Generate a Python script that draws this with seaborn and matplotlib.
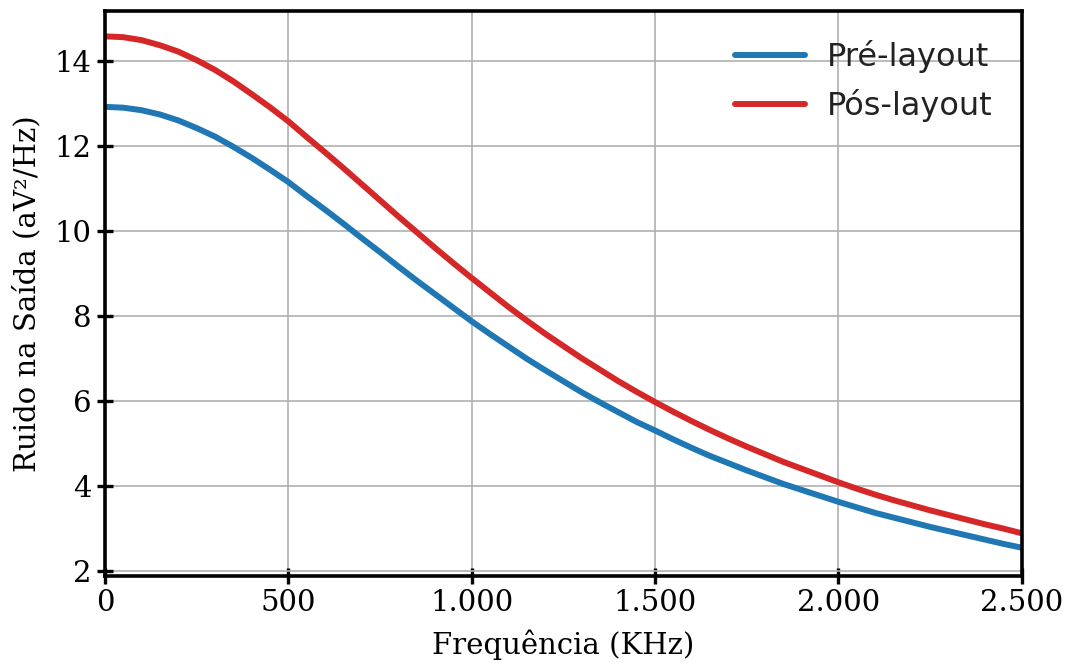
import matplotlib
matplotlib.use("Agg")
import matplotlib.pyplot as plt
from matplotlib.ticker import FuncFormatter
import pandas as pd
import seaborn as sns

# Output noise spectral density, pre- and post-layout simulations (every 50 KHz)
freq_khz = [0, 50, 100, 150, 200, 250, 300, 350, 400, 450, 500,
            550, 600, 650, 700, 750, 800, 850, 900, 950, 1000,
            1050, 1100, 1150, 1200, 1250, 1300, 1350, 1400, 1450, 1500,
            1550, 1600, 1650, 1700, 1750, 1800, 1850, 1900, 1950, 2000,
            2050, 2100, 2150, 2200, 2250, 2300, 2350, 2400, 2450, 2500]
pre_layout = [12.93, 12.91, 12.85, 12.75, 12.61, 12.43, 12.23, 11.99, 11.73,
              11.45, 11.16, 10.83, 10.51, 10.18, 9.84, 9.51, 9.17, 8.84,
              8.52, 8.20, 7.88, 7.58, 7.29, 7.00, 6.73, 6.47, 6.21, 5.97,
              5.74, 5.51, 5.31, 5.10, 4.90, 4.71, 4.54, 4.37, 4.21, 4.05,
              3.91, 3.77, 3.63, 3.50, 3.37, 3.26, 3.15, 3.04, 2.94, 2.84,
              2.74, 2.64, 2.55]
pos_layout = [14.59, 14.57, 14.50, 14.38, 14.23, 14.03, 13.80, 13.53, 13.23,
              12.92, 12.59, 12.22, 11.86, 11.49, 11.11, 10.73, 10.35, 9.98,
              9.61, 9.25, 8.90, 8.56, 8.22, 7.90, 7.59, 7.30, 7.01, 6.74,
              6.47, 6.22, 5.98, 5.75, 5.53, 5.32, 5.12, 4.93, 4.75, 4.57,
              4.41, 4.25, 4.09, 3.94, 3.80, 3.67, 3.55, 3.43, 3.32, 3.21,
              3.10, 3.00, 2.89]
series_names = ["Pré-layout", "Pós-layout"]
series_colors = ["#1f77b4", "#d62728"]
x_ticks = [0, 500, 1000, 1500, 2000, 2500]
y_ticks = [2, 4, 6, 8, 10, 12, 14]

df = pd.DataFrame({
    "freq": freq_khz * 2,
    "noise": pre_layout + pos_layout,
    "serie": [series_names[0]] * len(freq_khz) + [series_names[1]] * len(freq_khz),
})

sns.set_theme(style="ticks")
plt.rcParams["font.family"] = ["DejaVu Serif"]

fig = plt.figure(figsize=(10.71, 6.63), dpi=100)
ax = fig.add_axes([0.098, 0.131, 0.856, 0.852])

sns.lineplot(data=df, x="freq", y="noise", hue="serie",
             palette=dict(zip(series_names, series_colors)),
             linewidth=4.3, ax=ax)

ax.set_xlim(0, 2500)
ax.set_ylim(1.88, 15.18)
ax.set_xticks(x_ticks)
ax.set_yticks(y_ticks)
ax.xaxis.set_major_formatter(FuncFormatter(lambda v, p: f"{v:,.0f}".replace(",", ".")))
ax.grid(True, color="#b0b0b0", linewidth=1.2)
ax.set_axisbelow(True)

for s in ax.spines.values():
    s.set_color("black")
    s.set_linewidth(2.6)
ax.tick_params(axis="both", direction="inout", length=11, width=2.4,
               labelsize=21, colors="black", pad=4)
for lab in ax.get_xticklabels() + ax.get_yticklabels():
    lab.set_color("black")

ax.set_xlabel("Frequência (KHz)", fontsize=21, color="black", labelpad=9)
ax.set_ylabel("Ruido na Saída (aV²/Hz)", fontsize=21, color="black", labelpad=10)

leg = ax.legend(loc="upper right", frameon=False, handlelength=2.2,
                prop={"family": "DejaVu Sans", "size": 23},
                borderaxespad=0.5, labelspacing=0.5, handletextpad=0.7)
for line in leg.get_lines():
    line.set_linewidth(4.3)
for t in leg.get_texts():
    t.set_color("#222222")

fig.savefig("out.png", dpi=100)
